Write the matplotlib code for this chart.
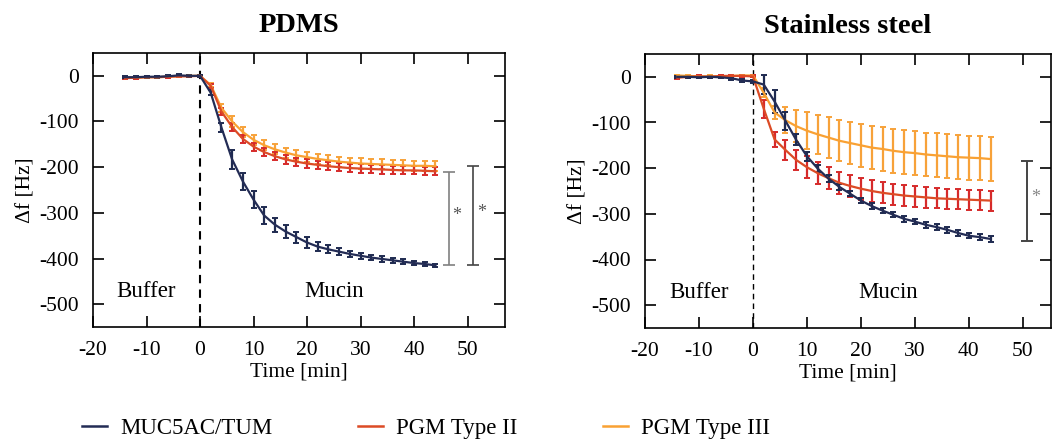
import matplotlib
matplotlib.use("Agg")
import matplotlib.pyplot as plt
from matplotlib.lines import Line2D

plt.rcParams['font.family'] = ['Liberation Serif', 'DejaVu Serif']
plt.rcParams['axes.unicode_minus'] = False

# time points [min]
t_buf = [-14, -12, -10, -8, -6, -4, -2, 0]
t_muc = [2, 4, 6, 8, 10, 12, 14, 16, 18, 20, 22, 24, 26, 28, 30, 32, 34, 36, 38, 40, 42, 44]
t_all = t_buf + t_muc

# PDMS
pdms_muc5ac = [-3, -3, -2, -2, -1, 1, 0, 0,
               -37, -113, -183, -231, -271, -306, -326, -341, -353, -365, -374, -380,
               -385, -390, -394, -398, -401, -404, -407, -410, -412, -415]
pdms_muc5ac_err = [2, 2, 2, 2, 2, 2, 2, 2,
                   6, 10, 20, 18, 18, 18, 15, 14, 12, 11, 10, 9,
                   8, 7, 7, 6, 6, 5, 5, 5, 4, 4]
pdms_pgm2 = [-5, -4, -3, -3, -2, -1, -1, 0,
             -22, -78, -112, -138, -155, -167, -176, -183, -188, -192, -195, -198,
             -200, -202, -203, -204, -205, -206, -207, -207, -208, -209]
pdms_pgm2_err = [2, 2, 2, 2, 2, 2, 2, 2,
                 4, 7, 9, 9, 9, 9, 9, 9, 9, 9, 9, 9,
                 9, 9, 9, 9, 9, 9, 9, 9, 9, 9]
pdms_pgm3 = [-5, -4, -3, -3, -2, -1, 0, 0,
             -20, -70, -100, -123, -140, -152, -161, -168, -174, -178, -182, -185,
             -188, -190, -192, -193, -194, -195, -196, -197, -197, -198]
pdms_pgm3_err = [3, 2, 2, 2, 2, 2, 2, 2,
                 5, 9, 11, 11, 11, 11, 11, 11, 11, 11, 11, 11,
                 11, 11, 11, 11, 11, 11, 11, 11, 11, 11]

# Stainless steel
ss_muc5ac = [0, 0, -1, 0, -1, -3, -8, -10,
             -17, -54, -96, -138, -174, -201, -223, -241, -256, -271, -283, -293,
             -302, -311, -317, -324, -329, -335, -342, -348, -351, -355]
ss_muc5ac_err = [2, 2, 2, 2, 2, 3, 3, 3,
                 20, 25, 20, 12, 10, 8, 7, 7, 6, 6, 6, 6,
                 6, 6, 6, 6, 6, 6, 6, 6, 6, 6]
ss_pgm2 = [-2, 0, 1, 0, 2, 2, 2, 1,
           -70, -137, -160, -182, -198, -211, -222, -232, -239, -245, -250, -254,
           -257, -260, -262, -264, -266, -267, -268, -269, -270, -271]
ss_pgm2_err = [2, 2, 2, 2, 2, 2, 2, 2,
               20, 17, 22, 22, 24, 24, 24, 24, 24, 24, 24, 23,
               23, 23, 23, 23, 22, 22, 22, 22, 22, 22]
ss_pgm3 = [3, 2, 1, 1, 1, 2, 3, 3,
           -35, -78, -95, -108, -118, -126, -133, -140, -145, -150, -155, -158,
           -162, -165, -167, -170, -172, -174, -176, -177, -178, -180]
ss_pgm3_err = [2, 2, 2, 2, 2, 2, 2, 2,
               10, 15, 28, 35, 40, 42, 44, 45, 46, 47, 47, 48,
               48, 48, 48, 48, 48, 48, 48, 48, 48, 48]

labels = ['MUC5AC/TUM', 'PGM Type II', 'PGM Type III']
line_colors = ['#232c55', '#dc4b25', '#f9a133']
err_colors = ['#1e2a50', '#d62a2a', '#f7a23a']

fig = plt.figure(figsize=(10.54, 4.42), dpi=100)
ax1 = fig.add_axes([93/1054, 1 - 327/442, 412/1054, 274/442])
ax2 = fig.add_axes([645/1054, 1 - 328/442, 406/1054, 274/442])


def draw_panel(ax, series, errs, title, xmax, dash_lw):
    for i in [2, 1, 0]:
        ax.errorbar(t_all, series[i], yerr=errs[i], fmt='none', ecolor=err_colors[i],
                    elinewidth=1.6, capsize=2.2, capthick=1.4, zorder=2)
        ax.plot(t_all, series[i], color=line_colors[i], lw=1.6, zorder=3)
    ax.axvline(0, color='black', ls=(0, (4, 3)), lw=dash_lw, zorder=1)
    ax.set_xlim(-20, xmax)
    ax.set_ylim(-550, 50)
    ax.set_xticks([-20, -10, 0, 10, 20, 30, 40, 50])
    ax.set_yticks([0, -100, -200, -300, -400, -500])
    ax.tick_params(direction='in', top=True, right=True, length=8, width=1.2,
                   labelsize=15.5)
    ax.tick_params(axis='x', pad=10)
    ax.tick_params(axis='y', pad=10)
    for s in ax.spines.values():
        s.set_linewidth(1.2)
    ax.set_xlabel('Time [min]', fontsize=15.5, labelpad=2)
    ax.set_ylabel('Δf [Hz]', fontsize=15.5, labelpad=3)
    ax.set_title(title, fontsize=20.5, fontweight='bold', pad=15)
    ax.text(-10, -473, 'Buffer', fontsize=16.5, ha='center', va='center')
    ax.text(25, -473, 'Mucin', fontsize=16.5, ha='center', va='center')


draw_panel(ax1, [pdms_muc5ac, pdms_pgm2, pdms_pgm3],
           [pdms_muc5ac_err, pdms_pgm2_err, pdms_pgm3_err], 'PDMS', 57, 1.5)
draw_panel(ax2, [ss_muc5ac, ss_pgm2, ss_pgm3],
           [ss_muc5ac_err, ss_pgm2_err, ss_pgm3_err], 'Stainless steel', 55.2, 1.0)

# significance brackets
ax1.errorbar([46.5], [-312.5], yerr=[102.5], fmt='none', ecolor='#808080',
             elinewidth=1.2, capsize=4, capthick=1.2, clip_on=False)
ax1.text(48, -305, '*', fontsize=13, color='#555555', ha='center', va='center')
ax1.errorbar([51], [-306], yerr=[109], fmt='none', ecolor='#444444',
             elinewidth=1.2, capsize=4, capthick=1.2, clip_on=False)
ax1.text(52.6, -300, '*', fontsize=13, color='#555555', ha='center', va='center')
ax2.errorbar([50.8], [-272], yerr=[88], fmt='none', ecolor='#444444',
             elinewidth=1.4, capsize=4, capthick=1.4, clip_on=False)
ax2.text(52.3, -265, '*', fontsize=13, color='#888888', ha='center', va='center')

handles = [Line2D([], [], color=c, lw=1.8) for c in line_colors]
fig.legend(handles, labels, loc='center left', bbox_to_anchor=(82/1054, 1 - 428/442),
           ncol=3, frameon=False, fontsize=16.5, handlelength=1.1, handletextpad=0.55,
           columnspacing=3.75, borderpad=0, borderaxespad=0)

fig.savefig('out.png', dpi=100)
